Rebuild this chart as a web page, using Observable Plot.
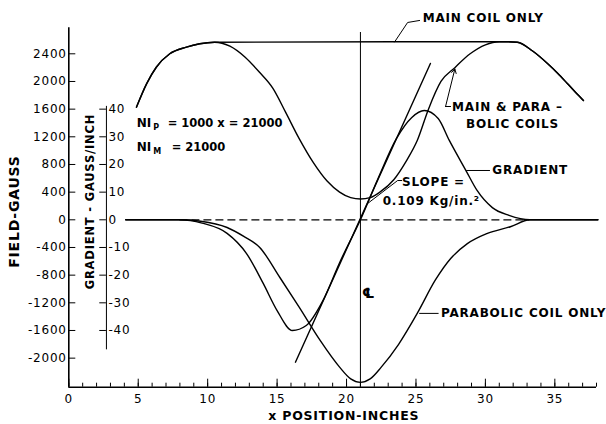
<!DOCTYPE html>
<html><head><meta charset="utf-8">
<script src="https://cdn.jsdelivr.net/npm/d3@7"></script>
<script src="https://cdn.jsdelivr.net/npm/@observablehq/plot@0.6"></script>
<style>html,body{margin:0;padding:0;background:#fff;} #chart svg text{letter-spacing:0.8px;}</style>
</head><body><div id="chart"></div>
<script>
// ---------------- data ----------------
const xTicksMajor = [0, 5, 10, 15, 20, 25, 30, 35];
const xTicksMinor = [0,1,2,3,4,5,6,7,8,9,10,11,12,13,14,15,16,17,18,19,20,21,22,23,24,25,26,27,28,29,30,31,32,33,34,35,36,37,38];
const fieldTicks = [-2000, -1600, -1200, -800, -400, 0, 400, 800, 1200, 1600, 2000, 2400];
const gradTicks = [40, 30, 20, 10, 0, -10, -20, -30, -40];
const gradToField = 40;           // 10 gauss/inch on the inner axis = 400 gauss on the outer one
const xDomain = [0, 38];
const yDomain = [-2420, 2776];
const centerX = 21;

// main coil only (field, gauss)
const mainX = [4.87, 5.6, 6.3, 7.27, 8.47, 9.43, 10.5, 31.6, 32.3, 33.4, 34.47, 35.2, 35.9, 36.5, 37.06];
const mainF = [1628, 1966, 2206, 2400, 2496, 2545, 2568, 2575, 2568, 2440, 2260, 2120, 1971, 1840, 1725];

// main & parabolic coils (field, gauss)
const mpX = [4.87, 5.6, 6.3, 7.27, 8.47, 9.43, 10.5, 11.6, 12.7, 13.7, 14.7, 15.6, 16.6, 17.6, 18.6, 19.5, 20.3, 21,
             21.7, 22.4, 23.4, 24.3, 25.1, 25.9, 26.8, 27.8, 28.9, 30.0, 31.0, 32.3, 33.4, 34.47, 35.2, 35.9, 36.5, 37.06];
const mpF = [1628, 1966, 2206, 2400, 2496, 2545, 2568, 2510, 2350, 2140, 1900, 1560, 1170, 830, 560, 400, 320, 300,
             320, 400, 580, 850, 1150, 1600, 2000, 2200, 2400, 2530, 2575, 2568, 2440, 2260, 2120, 1971, 1840, 1725];

// parabolic coil only (field, gauss)
const paraX = [4.1, 8.0, 9.5, 11.4, 12.6, 13.75, 15.2, 16.6, 18.1, 19.5, 20.3, 21, 21.7, 22.5, 23.75, 25.1, 26.4, 27.5, 28.7, 30.1, 31.8, 33.2, 38.1];
const paraF = [0, 0, -20, -111, -240, -400, -834, -1266, -1744, -2130, -2300, -2350, -2300, -2130, -1800, -1350, -870, -560, -345, -200, -100, 0, 0];

// gradient (gauss/inch)
const gradX = [4.1, 8.0, 9.6, 11.4, 12.8, 14.0, 15.0, 16.1, 17.1, 18.3, 19.5, 21, 22.3, 23.6, 24.7, 25.6, 26.6, 27.4, 28.6, 29.4, 30.5, 31.7, 33.2, 38.1];
const gradG = [0, 0, -1.2, -4.9, -12.2, -23, -32.8, -40, -38.2, -29.2, -15.5, 0, 15.3, 29.4, 37, 39.5, 36.6, 28.7, 17.8, 10.6, 4.4, 1.6, 0, 0];

// tangent ("slope") line
const slopeX = [16.32, 26.04];
const slopeF = [-2059, 2260];

// zero reference (dashed) and centre line extents
const zeroDashX = [8.0, 33.2];
const centerTop = 2708;

// inner gradient axis
const gradAxisX = 2.71;
const gradTickX1 = 2.23;
const gradAxisSpan = [-47, 41];

// annotation labels
const labelText = ["MAIN COIL ONLY", "MAIN & PARA –", "BOLIC COILS", "GRADIENT", "SLOPE =", "0.109 Kg/in.²", "PARABOLIC COIL ONLY"];
const labelX    = [25.48, 27.6, 28.6, 30.5, 24.0, 22.6, 26.8];
const labelY    = [2911, 1624, 1390, 713, 540, 275, -1355];

// NI lines: main part, subscript, remainder
const niX = 4.89;
const niY = [1392, 1045];
const niSub = ["P", "M"];
const niRest = ["= 1000 x = 21000", "= 21000"];

// leader lines
const leaderMain  = {x: [23.46, 24.40, 25.26], y: [2571, 2853, 2882]};
const leaderMP    = {x: [27.49, 27.13], y: [1638, 1638]};
const arrowMP     = {x1: 27.13, y1: 1638, x2: 27.80, y2: 2180};
const leaderGrad  = {x: [28.64, 30.30], y: [713, 713]};
const leaderSlope = {x: [21.52, 23.68, 23.97], y: [236, 568, 568]};
const leaderPara  = {x: [25.26, 26.60], y: [-1353, -1353]};

// axis titles
const titleField = {x: -3.89, y: 120, text: "FIELD-GAUSS"};
const titleGrad  = {x: 1.57, y: 264, text: "GRADIENT - GAUSS/INCH"};
const titleX     = {x: 19.8, y: -2830, text: "x POSITION-INCHES"};
const clSymbol   = {x: 21.6, y: -1066, text: "℄"};

// ---------------- build ----------------
const pts = (xs, ys) => xs.map((x, i) => ({x, y: ys[i]}));
const FONT = "DejaVu Sans";
const SW = 1.4;

const niMarks = niY.flatMap((y, i) => [
  Plot.text([{y, t: "NI"}], {x: niX, y: "y", text: "t", textAnchor: "start", fontSize: 12, fontWeight: "bold"}),
  Plot.text([{y, t: niSub[i]}], {x: niX, y: "y", text: "t", textAnchor: "start", dx: 16.5, dy: 4, fontSize: 8, fontWeight: "bold"}),
  Plot.text([{y, t: niRest[i]}], {x: niX, y: "y", text: "t", textAnchor: "start", dx: i === 0 ? 31 : 35, fontSize: 11.5, fontWeight: "bold"})
]);

const chart = Plot.plot({
  width: 606, height: 424,
  marginLeft: 68.3, marginRight: 10, marginTop: 27.3, marginBottom: 37.3,
  x: {domain: xDomain},
  y: {domain: yDomain},
  style: {fontFamily: FONT, background: "white", color: "black", overflow: "visible"},
  marks: [
    // axes
    Plot.ruleX([xDomain[0]], {strokeWidth: 1.6}),
    Plot.ruleY([yDomain[0]], {strokeWidth: 1.6}),
    Plot.axisY({ticks: fieldTicks, tickSize: -7, tickPadding: 9, tickFormat: d => String(d), fontSize: 12, label: null}),
    Plot.axisX({ticks: xTicksMinor, tickSize: -4, tickFormat: () => "", label: null}),
    Plot.axisX({ticks: xTicksMajor, tickSize: -8, tickPadding: 15, tickFormat: d => String(d), fontSize: 12, label: null}),
    // gradient axis
    Plot.ruleX([gradAxisX], {y1: gradAxisSpan[0] * gradToField, y2: gradAxisSpan[1] * gradToField, strokeWidth: 1}),
    Plot.ruleY(gradTicks, {y: d => d * gradToField, x1: gradTickX1, x2: gradAxisX, strokeWidth: 1}),
    Plot.text(gradTicks, {x: gradAxisX, y: d => d * gradToField, text: d => String(d), textAnchor: "start", dx: 2, fontSize: 12}),
    // reference lines
    Plot.ruleY([0], {x1: zeroDashX[0], x2: zeroDashX[1], strokeDasharray: "8,4", strokeWidth: 1.2}),
    Plot.ruleX([centerX], {y1: yDomain[0], y2: centerTop, strokeWidth: 1}),
    // curves
    Plot.line(pts(mainX, mainF), {x: "x", y: "y", curve: "monotone-x", strokeWidth: SW}),
    Plot.line(pts(mpX, mpF), {x: "x", y: "y", curve: "monotone-x", strokeWidth: SW}),
    Plot.line(pts(paraX, paraF), {x: "x", y: "y", curve: "monotone-x", strokeWidth: SW}),
    Plot.line(pts(gradX, gradG), {x: "x", y: d => d.y * gradToField, curve: "monotone-x", strokeWidth: SW}),
    Plot.line(pts(slopeX, slopeF), {x: "x", y: "y", strokeWidth: SW}),
    // leaders
    Plot.line(pts(leaderMain.x, leaderMain.y), {x: "x", y: "y", strokeWidth: 1}),
    Plot.line(pts(leaderMP.x, leaderMP.y), {x: "x", y: "y", strokeWidth: 1}),
    Plot.arrow([arrowMP], {x1: "x1", y1: "y1", x2: "x2", y2: "y2", strokeWidth: 1, headLength: 7}),
    Plot.line(pts(leaderGrad.x, leaderGrad.y), {x: "x", y: "y", strokeWidth: 1}),
    Plot.line(pts(leaderSlope.x, leaderSlope.y), {x: "x", y: "y", strokeWidth: 1}),
    Plot.line(pts(leaderPara.x, leaderPara.y), {x: "x", y: "y", strokeWidth: 1}),
    // labels
    Plot.text(labelText.map((t, i) => ({t, x: labelX[i], y: labelY[i]})), {x: "x", y: "y", text: "t", textAnchor: "start", fontSize: 12, fontWeight: "bold"}),
    ...niMarks,
    Plot.text([titleField], {x: "x", y: "y", text: "text", rotate: -90, fontSize: 14, fontWeight: "bold"}),
    Plot.text([titleGrad], {x: "x", y: "y", text: "text", rotate: -90, fontSize: 11.5, fontWeight: "bold"}),
    Plot.text([titleX], {x: "x", y: "y", text: "text", fontSize: 12.5, fontWeight: "bold"}),
    Plot.text([clSymbol], {x: "x", y: "y", text: "text", fontSize: 14, fontWeight: "bold"})
  ]
});
// the NI annotation is lettered tighter than the other labels
const niTexts = ["NI", ...niSub, ...niRest];
d3.select(chart).selectAll("text").filter(function () { return niTexts.includes(this.textContent); })
  .style("letter-spacing", "0px");
document.getElementById("chart").appendChild(chart);
</script>
</body></html>
